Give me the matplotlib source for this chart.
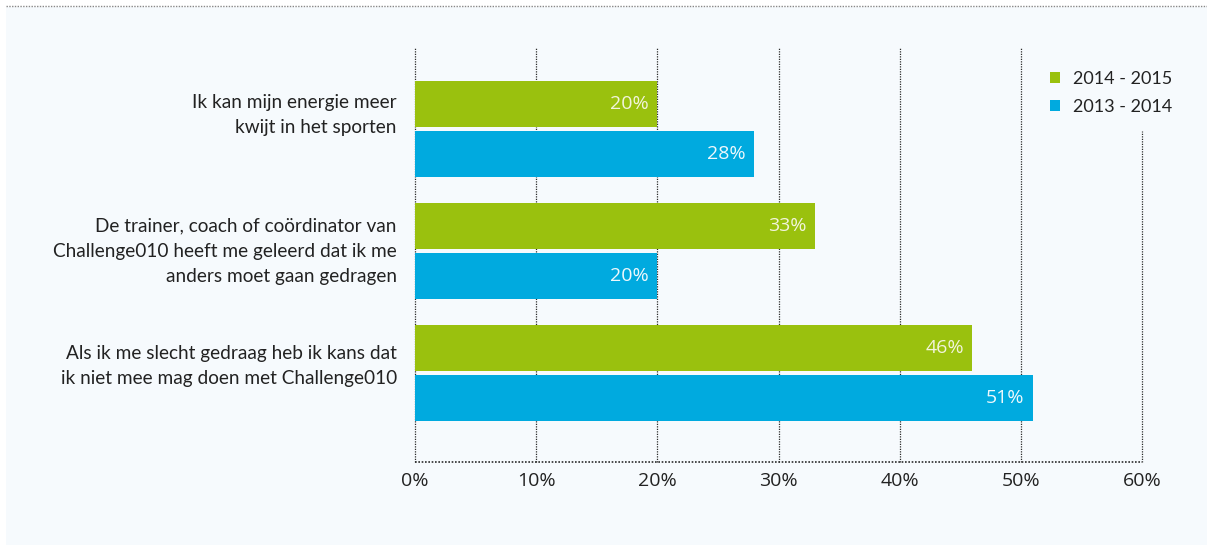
import numpy as np
import matplotlib.pyplot as plt
from matplotlib.patches import Rectangle
from matplotlib.lines import Line2D

# ---------------------------- data ---------------------------- #
categories = [
    'Ik kan mijn energie meer\nkwijt in het sporten',
    'De trainer, coach of coördinator van\nChallenge010 heeft me geleerd dat ik me\nanders moet gaan gedragen',
    'Als ik me slecht gedraag heb ik kans dat\nik niet mee mag doen met Challenge010',
]
series_names = ['2014 - 2015', '2013 - 2014']
vals_1415 = [20, 33, 46]
vals_1314 = [28, 20, 51]
xticks = [0, 10, 20, 30, 40, 50, 60]
xtick_labels = ['0%', '10%', '20%', '30%', '40%', '50%', '60%']
# -------------------------------------------------------------- #

green = '#9ac10e'
blue = '#00aadf'
panel = '#f6fafd'
dark = '#2b2b2b'

W, H = 1207, 546
fig = plt.figure(figsize=(W / 100, H / 100), dpi=100)
fig.patch.set_facecolor('white')

# light panel behind the chart and dotted rule along the top
fig.patches.append(Rectangle((6 / W, 1 - 545 / H), (W - 6) / W, 538 / H,
                             transform=fig.transFigure, facecolor=panel,
                             edgecolor='none', zorder=-10))
fig.lines.append(Line2D([6 / W, 1], [1 - 6 / H, 1 - 6 / H], transform=fig.transFigure,
                        color='#888888', linewidth=1.0, linestyle=(0, (1, 1)), zorder=-9))

x0, x1, y_top, y_bot = 415, 1142, 48, 462
ax = fig.add_axes([x0 / W, 1 - y_bot / H, (x1 - x0) / W, (y_bot - y_top) / H])
ax.set_facecolor('none')

y = np.arange(len(categories))
h = 0.375
off = 0.205
b1 = ax.barh(y - off, vals_1415, height=h, color=green, label=series_names[0], zorder=3)
b2 = ax.barh(y + off, vals_1314, height=h, color=blue, label=series_names[1], zorder=3)

ax.set_xlim(0, 60)
ax.set_ylim(2.73, -0.665)

# dotted vertical grid; the 60% line stops below the legend
for t in xticks:
    top = 0.80 if t == 60 else 1.0
    ax.axvline(t, ymin=0, ymax=top, color=dark, linewidth=0.9,
               linestyle=(0, (1, 1)), zorder=1, clip_on=False)
ax.axhline(2.73, color=dark, linewidth=1.2, linestyle=(0, (1, 1)), zorder=1,
           clip_on=False)

for s in ax.spines.values():
    s.set_visible(False)

ax.set_xticks(xticks)
ax.set_xticklabels(xtick_labels, fontfamily='Open Sans', fontsize=14, color='#222222')
ax.tick_params(axis='x', length=0, pad=7)
ax.set_yticks([])

# category labels, nudged up a little (points)
label_nudge = [10, 0, 5]
for i, cat in enumerate(categories):
    ax.annotate(cat, (-0.025, i), xycoords=ax.get_yaxis_transform(),
                xytext=(0, label_nudge[i]), textcoords='offset points',
                ha='right', va='center', fontfamily='Lato', fontsize=13.7,
                color='#222222', linespacing=1.58)

for bars, vals, col in [(b1, vals_1415, '#f2f4dc'), (b2, vals_1314, '#eef8fc')]:
    for rect, v in zip(bars, vals):
        ax.annotate(f'{v}%', (v, rect.get_y() + rect.get_height() / 2),
                    xytext=(-6, 0), textcoords='offset points', ha='right', va='center',
                    fontfamily='Open Sans', fontsize=14, color=col, zorder=4)

leg = ax.legend(handles=[b1, b2], loc='upper left',
                bbox_to_anchor=(1041 / W, 1 - 62 / H), bbox_transform=fig.transFigure,
                frameon=False, handlelength=0.55, handleheight=0.55, handletextpad=0.7,
                labelspacing=0.65, borderpad=0,
                prop={'family': 'Lato', 'size': 13})
for t in leg.get_texts():
    t.set_color('#222222')

fig.savefig('out.png', dpi=100, facecolor=fig.get_facecolor())
